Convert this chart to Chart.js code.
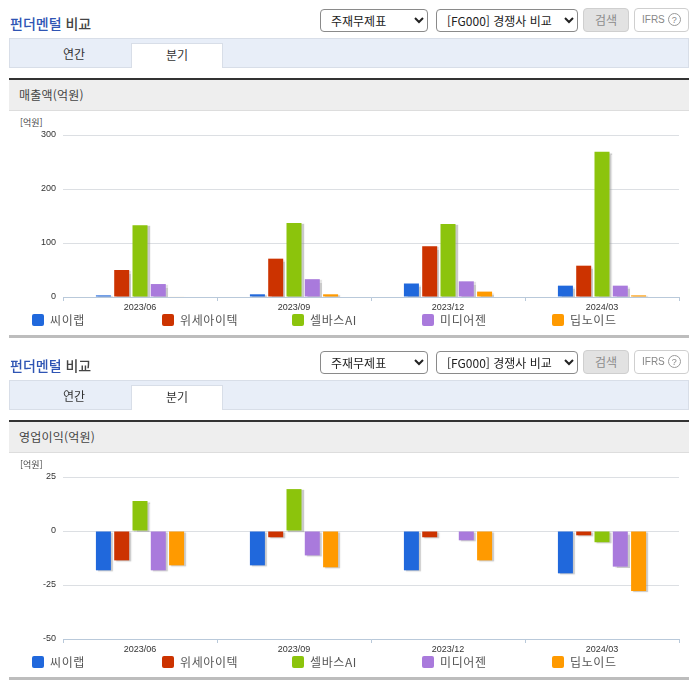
<!DOCTYPE html>
<html lang="ko">
<head>
<meta charset="utf-8">
<title>펀더멘털 비교</title>
<script src="https://cdn.jsdelivr.net/npm/chart.js@4"></script>
<style>
html, body { margin: 0; padding: 0; background: #fff; }
body { width: 696px; height: 684px; overflow: hidden; position: relative; font-family: "Noto Sans CJK KR", sans-serif; color: #333; }
.panel { position: absolute; left: 0; width: 696px; height: 342px; }
.panel > * { position: absolute; box-sizing: border-box; }
.title { left: 10px; top: 13px; font-size: 14px; line-height: 20px; font-weight: 500; color: #444; white-space: nowrap; }
.title b { color: #2f55b4; font-weight: 500; }
select { top: 9px; height: 23px; font-family: inherit; font-size: 12px; color: #222; background: #fff; border: 1px solid #8a8a8a; border-radius: 4px; padding: 0 0 0 6px; }
.sel1 { left: 320px; width: 108px; }
.sel2 { left: 436px; width: 142px; }
.search { left: 583px; top: 8px; width: 46px; height: 24px; background: #e2e2e2; border: 1px solid #cfcfcf; border-radius: 4px; font-size: 12px; line-height: 21px; text-align: center; color: #8c8c8c; }
.ifrs { left: 634px; top: 8px; width: 55px; height: 24px; border: 1px solid #cfcfcf; border-radius: 4px; font-family: "Liberation Sans", sans-serif; font-size: 10px; line-height: 22px; padding-left: 7px; color: #888; white-space: nowrap; }
.ifrs i { display: inline-block; width: 13px; height: 13px; line-height: 12px; margin-left: 3px; border: 1px solid #999; border-radius: 50%; text-align: center; font-style: normal; box-sizing: border-box; font-size: 9px; }
.band { left: 9px; top: 38px; width: 680px; height: 30px; background: #e8eef8; border: 1px solid #d8dee8; }
.tab { top: 42px; height: 25px; font-size: 12px; line-height: 24px; text-align: center; color: #333; }
.tab1 { left: 29px; width: 90px; }
.tab2 { left: 131px; top: 43px; width: 92px; height: 25px; line-height: 22px; background: #fff; border: 1px solid #d8dee8; border-bottom: 0; }
.head { left: 9px; top: 78px; width: 680px; height: 33px; background: #eee; border-top: 2px solid #333; border-bottom: 1px solid #ddd; font-size: 12px; line-height: 30px; padding-left: 10px; color: #444; letter-spacing: .2px; }
.unit { left: 20px; top: 117px; font-size: 9px; line-height: 12px; color: #444; }
canvas { position: absolute; left: 0; top: 113px; }
.legend { left: 0; top: 311px; width: 696px; height: 18px; }
.legend span { position: absolute; top: 0; font-size: 12px; line-height: 18px; color: #555; letter-spacing: .6px; white-space: nowrap; padding-left: 18px; }
.legend span i { position: absolute; left: 0; top: 3px; width: 12px; height: 12px; border-radius: 2px; }
.rule { left: 9px; top: 335px; width: 680px; height: 3px; background: #bdbdbd; }
</style>
</head>
<body>
<script>
const categories = ['2023/06', '2023/09', '2023/12', '2024/03'];
const companies = ['씨이랩', '위세아이텍', '셀바스AI', '미디어젠', '딥노이드'];
const colors = ['#2068dc', '#cc3300', '#8cc40c', '#a97adc', '#ff9a00'];

// 매출액 (억원)
const salesCielab = [3, 5, 25, 21];
const salesWise = [50, 71, 94, 58];
const salesSelvas = [133, 137, 135, 269];
const salesMediazen = [24, 33, 29, 21];
const salesDeepnoid = [1, 5, 10, 3];

// 영업이익 (억원)
const profitCielab = [-18.2, -15.9, -18.2, -19.6];
const profitWise = [-13.6, -2.9, -2.9, -2];
const profitSelvas = [13.9, 19.4, 0, -5.2];
const profitMediazen = [-18.2, -11.3, -4.3, -16.5];
const profitDeepnoid = [-15.9, -16.8, -13.6, -27.8];

// 막대 그림자
const barShadow = {
    id: 'barShadow',
    beforeDatasetsDraw(chart) {
        const ctx = chart.ctx;
        ctx.save();
        ctx.shadowColor = 'rgba(150, 150, 150, 0.5)';
        ctx.shadowOffsetX = 2;
        ctx.shadowOffsetY = 1;
        ctx.shadowBlur = 1;
    },
    afterDatasetsDraw(chart) {
        chart.ctx.restore();
    }
};

function createPanel(top, heading, seriesList, min, max, step) {
    const panel = document.createElement('div');
    panel.className = 'panel';
    panel.style.top = top + 'px';
    panel.innerHTML = `
        <div class="title"><b>펀더멘털</b> 비교</div>
        <select class="sel1"><option>주재무제표</option></select>
        <select class="sel2"><option>[FG000] 경쟁사 비교</option></select>
        <div class="search">검색</div>
        <div class="ifrs">IFRS<i>?</i></div>
        <div class="band"></div>
        <div class="tab tab1">연간</div>
        <div class="tab tab2">분기</div>
        <div class="head">${heading}</div>
        <div class="unit">[억원]</div>
        <canvas width="696" height="200"></canvas>
        <div class="legend">${companies.map((name, i) =>
            `<span style="left:${32 + i * 130}px"><i style="background:${colors[i]}"></i>${name}</span>`).join('')}</div>
        <div class="rule"></div>`;
    document.body.appendChild(panel);

    return new Chart(panel.querySelector('canvas').getContext('2d'), {
        type: 'bar',
        data: {
            labels: categories,
            datasets: companies.map((name, i) => ({
                label: name,
                data: seriesList[i],
                backgroundColor: colors[i],
                barPercentage: 0.82,
                categoryPercentage: 0.594
            }))
        },
        plugins: [barShadow],
        options: {
            responsive: false,
            animation: false,
            layout: { padding: { top: 22, right: 17, left: 0, bottom: 0 } },
            plugins: {
                legend: { display: false },
                tooltip: { enabled: false }
            },
            scales: {
                x: {
                    afterFit(scale) { scale.height = 16; },
                    border: { color: '#b9c9da' },
                    grid: { drawOnChartArea: false, color: '#b9c9da', tickLength: 4, offset: true },
                    ticks: { color: '#333', padding: 1, maxRotation: 0, font: { family: 'Liberation Sans', size: 9 } }
                },
                y: {
                    min: min,
                    max: max,
                    afterFit(scale) { scale.width = 63; },
                    border: { display: false },
                    grid: { color: '#dcdfe3', drawTicks: false },
                    ticks: { stepSize: step, color: '#333', padding: 7, font: { family: 'Liberation Sans', size: 9 } }
                }
            }
        }
    });
}

createPanel(0, '매출액(억원)', [salesCielab, salesWise, salesSelvas, salesMediazen, salesDeepnoid], 0, 300, 100);
createPanel(342, '영업이익(억원)', [profitCielab, profitWise, profitSelvas, profitMediazen, profitDeepnoid], -50, 25, 25);
</script>
</body>
</html>
